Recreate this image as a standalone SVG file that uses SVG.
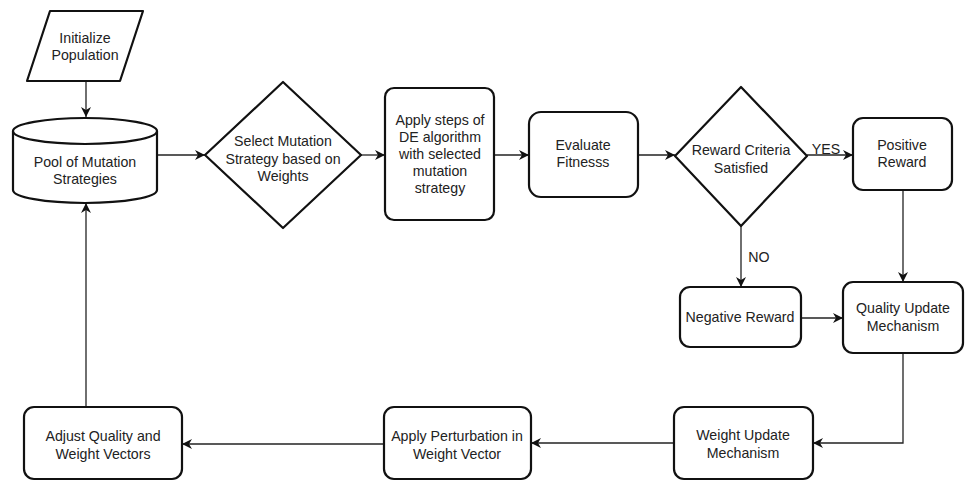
<svg xmlns="http://www.w3.org/2000/svg" width="965" height="481" viewBox="0 0 965 481">
<style>
.s{fill:#fff;stroke:#111;stroke-width:2.2;stroke-linejoin:round}
.t{font-family:"Liberation Sans",Arial,sans-serif;font-size:14.2px;fill:#222;text-anchor:middle}
.c{fill:none;stroke:#222;stroke-width:1.3}
</style>
<defs>
<marker id="a" markerWidth="10" markerHeight="10" refX="10" refY="5" orient="auto" markerUnits="userSpaceOnUse">
<path d="M0,0 L10,5 L0,10 L3,5 Z" fill="#111"/>
</marker>
</defs>
<rect width="965" height="481" fill="#fff"/>
<g id="connectors">
<path class="c" d="M86,81 V117" marker-end="url(#a)"/>
<path class="c" d="M157,155 H205" marker-end="url(#a)"/>
<path class="c" d="M361,155 H385" marker-end="url(#a)"/>
<path class="c" d="M494,155 H529" marker-end="url(#a)"/>
<path class="c" d="M638,155 H675" marker-end="url(#a)"/>
<path class="c" d="M807,155 H853" marker-end="url(#a)"/>
<text class="t" x="826" y="154">YES</text>
<path class="c" d="M903,190 V282" marker-end="url(#a)"/>
<path class="c" d="M741,226 V287" marker-end="url(#a)"/>
<text class="t" x="759" y="262">NO</text>
<path class="c" d="M801,318 H843" marker-end="url(#a)"/>
<path class="c" d="M903,353 V443 H813" marker-end="url(#a)"/>
<path class="c" d="M674,443 H531" marker-end="url(#a)"/>
<path class="c" d="M384,444 H182" marker-end="url(#a)"/>
<path class="c" d="M86,407 V203" marker-end="url(#a)"/>
</g>
<g id="init">
<path class="s" d="M50,11 H143 L120,81 H27 Z"/>
<text class="t" x="85" y="43">Initialize</text>
<text class="t" x="85" y="60">Population</text>
</g>
<g id="pool">
<path class="s" d="M13,131 A72,13 0 0 1 157,131 V190 A72,13 0 0 1 13,190 Z"/>
<path class="s" fill="none" d="M13,131 A72,13 0 0 0 157,131"/>
<text class="t" x="85" y="167">Pool of Mutation</text>
<text class="t" x="85" y="184">Strategies</text>
</g>
<g id="select">
<path class="s" d="M283,82 L361,155 L283,228 L205,155 Z"/>
<text class="t" x="283" y="146">Select Mutation</text>
<text class="t" x="283" y="164">Strategy based on</text>
<text class="t" x="283" y="181">Weights</text>
</g>
<g id="apply-de">
<rect class="s" x="385" y="88" width="109" height="132" rx="9"/>
<text class="t" x="440" y="125">Apply steps of</text>
<text class="t" x="440" y="142">DE algorithm</text>
<text class="t" x="440" y="159">with selected</text>
<text class="t" x="440" y="176">mutation</text>
<text class="t" x="440" y="193">strategy</text>
</g>
<g id="evaluate">
<rect class="s" x="529" y="112" width="109" height="85" rx="12"/>
<text class="t" x="583" y="150">Evaluate</text>
<text class="t" x="583" y="167">Fitnesss</text>
</g>
<g id="reward-criteria">
<path class="s" d="M741,87 L807,156 L741,226 L675,156 Z"/>
<text class="t" x="741" y="155">Reward Criteria</text>
<text class="t" x="741" y="173">Satisfied</text>
</g>
<g id="positive">
<rect class="s" x="853" y="118" width="99" height="72" rx="10"/>
<text class="t" x="902" y="150">Positive</text>
<text class="t" x="902" y="167">Reward</text>
</g>
<g id="negative">
<rect class="s" x="680" y="287" width="121" height="60" rx="10"/>
<text class="t" x="740" y="322">Negative Reward</text>
</g>
<g id="quality">
<rect class="s" x="843" y="282" width="120" height="71" rx="10"/>
<text class="t" x="903" y="313">Quality Update</text>
<text class="t" x="903" y="331">Mechanism</text>
</g>
<g id="weight-update">
<rect class="s" x="674" y="407" width="139" height="72" rx="10"/>
<text class="t" x="743" y="440">Weight Update</text>
<text class="t" x="743" y="458">Mechanism</text>
</g>
<g id="perturbation">
<rect class="s" x="384" y="407" width="147" height="72" rx="10"/>
<text class="t" x="457" y="441">Apply Perturbation in</text>
<text class="t" x="457" y="459">Weight Vector</text>
</g>
<g id="adjust">
<rect class="s" x="24" y="407" width="158" height="72" rx="10"/>
<text class="t" x="103" y="441">Adjust Quality and</text>
<text class="t" x="103" y="459">Weight Vectors</text>
</g>
</svg>
